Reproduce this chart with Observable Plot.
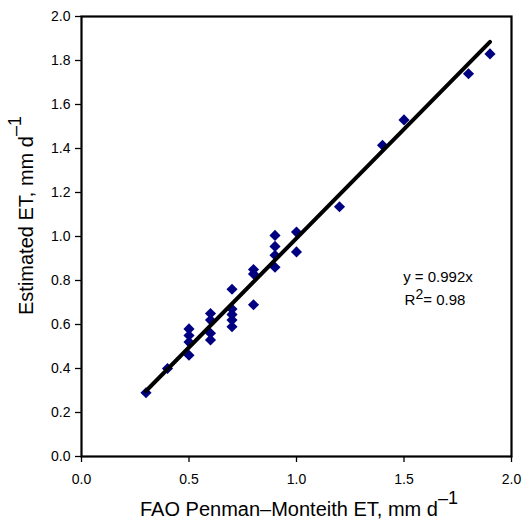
<!DOCTYPE html>
<html><head><meta charset="utf-8">
<script src="https://cdn.jsdelivr.net/npm/d3@7"></script>
<script src="https://cdn.jsdelivr.net/npm/@observablehq/plot@0.6"></script>
<style>body{margin:0;background:#fff;font-family:"Liberation Sans",Arial,sans-serif}</style>
</head><body><div id="chart"></div>
<script>
const fao = [0.3,0.4,0.5,0.5,0.5,0.5,0.6,0.6,0.6,0.6,0.7,0.7,0.7,0.7,0.7,0.8,0.8,0.8,0.9,0.9,0.9,0.9,1.0,1.0,1.2,1.4,1.5,1.8,1.9];
const est = [0.29,0.40,0.58,0.55,0.52,0.46,0.65,0.62,0.56,0.53,0.76,0.67,0.645,0.62,0.59,0.85,0.83,0.69,1.005,0.955,0.915,0.86,1.02,0.93,1.135,1.415,1.53,1.74,1.83];
const slope = 0.992;
const fitX = [0.3, 1.9];
const xTicks = [0,0.5,1.0,1.5,2.0];
const yTicks = [0,0.2,0.4,0.6,0.8,1.0,1.2,1.4,1.6,1.8,2.0];

const pts = fao.map((x,i)=>({x, y: est[i]}));
const fit = fitX.map(x=>({x, y: slope*x}));
const ff = '"Liberation Sans", Arial, sans-serif';

const plot = Plot.plot({
  width: 525, height: 522,
  marginLeft: 81, marginRight: 14, marginTop: 16, marginBottom: 66,
  style: {fontFamily: ff, fontSize: "14px", color: "#000", background: "#fff"},
  x: {domain: [0,2], label: null},
  y: {domain: [0,2], label: null},
  marks: [
    Plot.axisX({ticks: xTicks, tickFormat: d3.format(".1f"), tickSize: 6, tickPadding: 12, fontSize: 14, stroke: "#000", strokeWidth: 1.3, label: null}),
    Plot.axisY({ticks: yTicks, tickFormat: d3.format(".1f"), tickSize: 6, tickPadding: 5, fontSize: 14, stroke: "#000", strokeWidth: 1.3, label: null}),
    Plot.frame({stroke: "#000", strokeWidth: 2.2}),
    Plot.dot(pts, {x: "x", y: "y", symbol: "diamond2", r: 5, fill: "#000080", stroke: "none"}),
    Plot.line(fit, {x: "x", y: "y", stroke: "#000", strokeWidth: 4})
  ]
});
document.getElementById("chart").appendChild(plot);

const svg = d3.select(plot);
// x label
const xl = svg.append("text").attr("x", 140).attr("y", 516)
  .attr("text-anchor","start").attr("font-family", ff).attr("font-size", 20).attr("fill","#000");
xl.append("tspan").text("FAO Penman–Monteith ET, mm d");
xl.append("tspan").attr("dy", -12).attr("font-size", 18).text("–1");
// y label
const yl = svg.append("text").attr("transform", `translate(33,315) rotate(-90)`)
  .attr("text-anchor","start").attr("font-family", ff).attr("font-size", 20).attr("fill","#000");
yl.append("tspan").text("Estimated ET, mm d");
yl.append("tspan").attr("dy", -12).attr("font-size", 18).text("–1");
// equation
svg.append("text").attr("x", 438).attr("y", 282).attr("text-anchor","middle")
  .attr("font-family", ff).attr("font-size", 15).attr("fill","#000").text("y = 0.992x");
const r2 = svg.append("text").attr("x", 435).attr("y", 305).attr("text-anchor","middle")
  .attr("font-family", ff).attr("font-size", 15).attr("fill","#000");
r2.append("tspan").text("R");
r2.append("tspan").attr("dy", -6).attr("font-size", 14).text("2");
r2.append("tspan").attr("dy", 6).text("= 0.98");
</script></body></html>
